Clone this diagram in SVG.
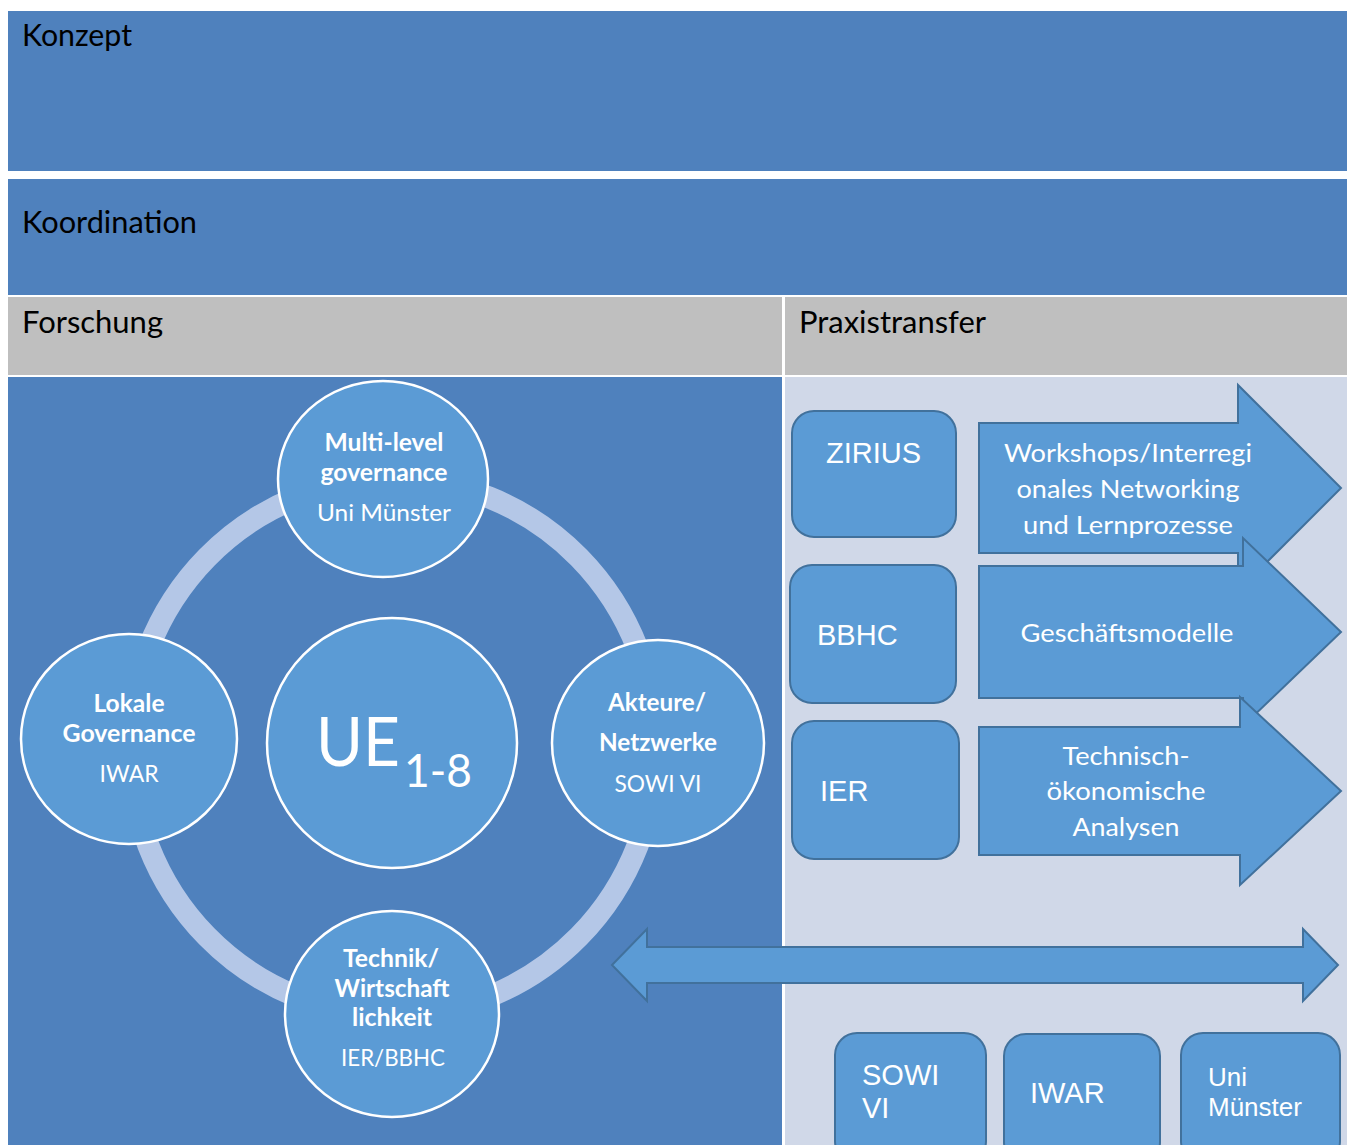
<svg xmlns="http://www.w3.org/2000/svg" width="1353" height="1145" viewBox="0 0 1353 1145">
  <style>
    .band { fill: #4f81bd; }
    .head { fill: #bfbfbf; }
    .light { fill: #d0d8e8; }
    .title { font-family: Lato, "Open Sans", sans-serif; font-size: 30px; fill: #000; }
    .disc { fill: #5b9bd5; stroke: #ffffff; stroke-width: 2.5; }
    .ctxt { font-family: Lato, "Open Sans", sans-serif; fill: #fff; text-anchor: middle; }
    .b { font-weight: bold; font-size: 24px; }
    .r { font-size: 23px; }
    .box { fill: #5b9bd5; stroke: #41719c; stroke-width: 2; }
    .atxt { font-family: Lato, "Open Sans", sans-serif; font-size: 25px; fill: #fff; text-anchor: middle; }
    .btxt { font-family: "Liberation Sans", Arial, sans-serif; font-size: 29px; fill: #fff; }
    .btxt.sm { font-size: 26px; }
  </style>

  <rect x="0" y="0" width="1353" height="1145" fill="#ffffff"/>

  <!-- upper bands -->
  <g id="konzept">
    <rect class="band" x="8" y="11" width="1339" height="160"/>
    <text class="title" x="22" y="46" textLength="110" lengthAdjust="spacingAndGlyphs">Konzept</text>
  </g>
  <g id="koordination">
    <rect class="band" x="8" y="179" width="1339" height="116"/>
    <text class="title" x="22" y="233" textLength="175" lengthAdjust="spacingAndGlyphs">Koordination</text>
  </g>
  <g id="forschung">
    <rect class="head" x="8" y="297" width="774" height="78"/>
    <text class="title" x="22" y="333" textLength="141" lengthAdjust="spacingAndGlyphs">Forschung</text>
    <rect class="band" x="8" y="377" width="774" height="768"/>
  </g>
  <g id="praxistransfer">
    <rect class="head" x="785" y="297" width="562" height="78"/>
    <text class="title" x="799" y="333" textLength="187" lengthAdjust="spacingAndGlyphs">Praxistransfer</text>
    <rect class="light" x="785" y="377" width="562" height="768"/>
  </g>

  <!-- cycle ring -->
  <g id="ring">
    <ellipse cx="393" cy="747" rx="263" ry="268" fill="none" stroke="#b4c7e7" stroke-width="22"/>
  </g>

  <g id="multilevel">
    <ellipse class="disc" cx="383" cy="479" rx="105" ry="98"/>
    <text class="ctxt b" x="384" y="451" textLength="119" lengthAdjust="spacingAndGlyphs">Multi-level</text>
    <text class="ctxt b" x="384" y="481" textLength="127" lengthAdjust="spacingAndGlyphs">governance</text>
    <text class="ctxt r" x="384" y="521" textLength="134" lengthAdjust="spacingAndGlyphs">Uni Münster</text>
  </g>
  <g id="lokale">
    <ellipse class="disc" cx="129" cy="739" rx="108" ry="105"/>
    <text class="ctxt b" x="129" y="712" textLength="71" lengthAdjust="spacingAndGlyphs">Lokale</text>
    <text class="ctxt b" x="129" y="742" textLength="133" lengthAdjust="spacingAndGlyphs">Governance</text>
    <text class="ctxt r" x="129" y="782" textLength="59" lengthAdjust="spacingAndGlyphs">IWAR</text>
  </g>
  <g id="akteure">
    <ellipse class="disc" cx="658" cy="743" rx="106" ry="103"/>
    <text class="ctxt b" x="657" y="711" textLength="98" lengthAdjust="spacingAndGlyphs">Akteure/</text>
    <text class="ctxt b" x="658" y="751" textLength="118" lengthAdjust="spacingAndGlyphs">Netzwerke</text>
    <text class="ctxt r" x="658" y="792" textLength="87" lengthAdjust="spacingAndGlyphs">SOWI VI</text>
  </g>
  <g id="technik">
    <ellipse class="disc" cx="392" cy="1014" rx="107" ry="103"/>
    <text class="ctxt b" x="391" y="967" textLength="96" lengthAdjust="spacingAndGlyphs">Technik/</text>
    <text class="ctxt b" x="392" y="997" textLength="115" lengthAdjust="spacingAndGlyphs">Wirtschaft</text>
    <text class="ctxt b" x="392" y="1026" textLength="80" lengthAdjust="spacingAndGlyphs">lichkeit</text>
    <text class="ctxt r" x="393" y="1066" textLength="104" lengthAdjust="spacingAndGlyphs">IER/BBHC</text>
  </g>
  <g id="ue">
    <circle class="disc" cx="392" cy="743" r="125"/>
    <text font-family="Lato, 'Open Sans', sans-serif" fill="#fff" x="316" y="766" font-size="68" textLength="84" lengthAdjust="spacingAndGlyphs">UE</text>
    <text font-family="Lato, 'Open Sans', sans-serif" fill="#fff" x="404" y="787" font-size="46" textLength="68" lengthAdjust="spacingAndGlyphs">1-8</text>
  </g>

  <!-- transfer partners and their work areas -->
  <g id="zirius">
    <rect class="box" x="792" y="411" width="164" height="126" rx="22"/>
    <text class="btxt" x="826" y="463">ZIRIUS</text>
  </g>
  <g id="arrow-workshops">
    <path class="box" d="M979,423 H1238 V385 L1341,488 L1238,591 V553 H979 Z"/>
    <text class="atxt" x="1128" y="462" textLength="248" lengthAdjust="spacingAndGlyphs">Workshops/Interregi</text>
    <text class="atxt" x="1128" y="498" textLength="223" lengthAdjust="spacingAndGlyphs">onales Networking</text>
    <text class="atxt" x="1128" y="534" textLength="210" lengthAdjust="spacingAndGlyphs">und Lernprozesse</text>
  </g>
  <g id="bbhc">
    <rect class="box" x="790" y="565" width="166" height="138" rx="22"/>
    <text class="btxt" x="817" y="645">BBHC</text>
  </g>
  <g id="arrow-geschaeftsmodelle">
    <path class="box" d="M979,566 H1243 V538 L1341,632 L1243,726 V698 H979 Z"/>
    <text class="atxt" x="1127" y="642" textLength="213" lengthAdjust="spacingAndGlyphs">Geschäftsmodelle</text>
  </g>
  <g id="ier">
    <rect class="box" x="792" y="721" width="167" height="138" rx="22"/>
    <text class="btxt" x="820" y="801">IER</text>
  </g>
  <g id="arrow-analysen">
    <path class="box" d="M979,727 H1240 V697 L1341,791 L1240,885 V855 H979 Z"/>
    <text class="atxt" x="1126" y="765" textLength="127" lengthAdjust="spacingAndGlyphs">Technisch-</text>
    <text class="atxt" x="1126" y="800" textLength="159" lengthAdjust="spacingAndGlyphs">ökonomische</text>
    <text class="atxt" x="1126" y="836" textLength="107" lengthAdjust="spacingAndGlyphs">Analysen</text>
  </g>

  <!-- exchange between research and transfer -->
  <g id="connectors">
    <path class="box" d="M612,965 L647,929 V947 H1303 V929 L1338,965 L1303,1001 V983 H647 V1001 Z"/>
  </g>

  <g id="sowi">
    <rect class="box" x="835" y="1033" width="151" height="130" rx="22"/>
    <text class="btxt" x="862" y="1085">SOWI</text>
    <text class="btxt" x="862" y="1118">VI</text>
  </g>
  <g id="iwar">
    <rect class="box" x="1004" y="1034" width="156" height="130" rx="22"/>
    <text class="btxt" x="1030" y="1103">IWAR</text>
  </g>
  <g id="uni-muenster">
    <rect class="box" x="1181" y="1033" width="159" height="130" rx="22"/>
    <text class="btxt sm" x="1208" y="1086">Uni</text>
    <text class="btxt sm" x="1208" y="1116">Münster</text>
  </g>
</svg>
